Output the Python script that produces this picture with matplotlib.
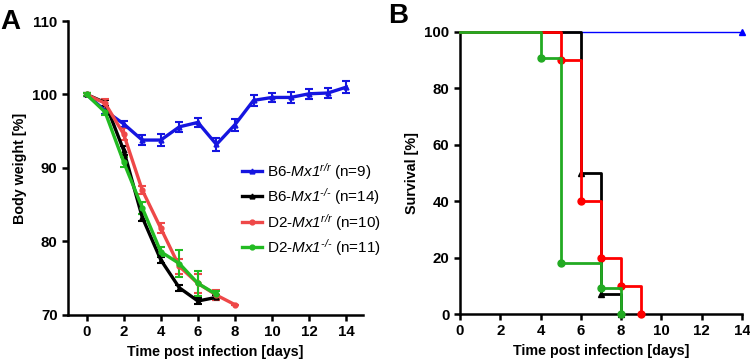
import matplotlib
matplotlib.use("Agg")
import matplotlib.pyplot as plt
from matplotlib.lines import Line2D

plt.rcParams["font.family"] = ["Liberation Sans", "DejaVu Sans"]
plt.rcParams["mathtext.fontset"] = "custom"
plt.rcParams["mathtext.rm"] = "Liberation Sans:italic"
plt.rcParams["mathtext.it"] = "Liberation Sans:italic"

# ---------------------------------------------------------------------------
# Panel A: body weight (mean +/- SEM)
# ---------------------------------------------------------------------------
b6_rr_days = list(range(0, 15))
b6_rr_wt = [100.0, 97.8, 96.0, 93.8, 93.8, 95.6, 96.2, 93.2, 95.9, 99.2, 99.6, 99.6, 100.1, 100.2, 101.0]
b6_rr_err = [0.2, 0.4, 0.4, 0.7, 0.8, 0.7, 0.6, 0.9, 0.8, 0.7, 0.6, 0.8, 0.7, 0.7, 0.8]

b6_ko_days = list(range(0, 8))
b6_ko_wt = [100.0, 98.9, 92.4, 83.3, 77.5, 73.7, 71.9, 72.4]
b6_ko_err = [0.2, 0.4, 0.6, 0.5, 0.4, 0.4, 0.4, 0.3]

d2_rr_days = list(range(0, 9))
d2_rr_wt = [100.0, 98.8, 94.6, 87.0, 81.8, 76.6, 74.3, 72.7, 71.4]
d2_rr_err = [0.2, 0.6, 0.8, 0.6, 0.7, 1.0, 1.3, 0.7, 0.0]

d2_ko_days = list(range(0, 8))
d2_ko_wt = [100.0, 97.6, 90.8, 84.6, 78.6, 77.0, 74.3, 72.8]
d2_ko_err = [0.2, 0.4, 0.7, 0.8, 0.6, 1.8, 1.7, 0.5]

labels = [r"B6-$\mathit{Mx1}^{r/r}$ (n=9)", r"B6-$\mathit{Mx1}^{\text{-/-}}$ (n=14)",
          r"D2-$\mathit{Mx1}^{r/r}$ (n=10)", r"D2-$\mathit{Mx1}^{\text{-/-}}$ (n=11)"]

# ---------------------------------------------------------------------------
# Panel B: survival (Kaplan-Meier steps, drop points)
# ---------------------------------------------------------------------------
b6_rr_t = [0, 14]
b6_rr_s = [100, 100]
b6_ko_t = [0, 6, 7, 8]
b6_ko_s = [100, 50, 7.1, 0]
d2_rr_t = [0, 5, 6, 7, 8, 9]
d2_rr_s = [100, 90, 40, 20, 10, 0]
d2_ko_t = [0, 4, 5, 7, 8]
d2_ko_s = [100, 90.9, 18.2, 9.1, 0]

fig = plt.figure(figsize=(7.5, 3.59), dpi=100)
ax = fig.add_axes([0.0907, 0.1226, 0.3933, 0.8189])
ax2 = fig.add_axes([0.6133, 0.1253, 0.376, 0.7856])

col_a = {"b6rr": "#1515E0", "b6ko": "#000000", "d2rr": "#EE4848", "d2ko": "#22BB22"}
series_a = [
    (b6_rr_days, b6_rr_wt, b6_rr_err, col_a["b6rr"], "^"),
    (b6_ko_days, b6_ko_wt, b6_ko_err, col_a["b6ko"], "^"),
    (d2_rr_days, d2_rr_wt, d2_rr_err, col_a["d2rr"], "o"),
    (d2_ko_days, d2_ko_wt, d2_ko_err, col_a["d2ko"], "o"),
]
handles = []
for (d, w, e, c, m), lab in zip(series_a, labels):
    ax.errorbar(d, w, yerr=e, color=c, lw=2.4, marker=m, ms=3.5,
                capsize=3, capthick=1.5, elinewidth=1.5, zorder=3)
    handles.append(Line2D([], [], color=c, lw=2.4, marker=m, ms=3.5))

ax.set_xlim(-1, 14.9)
ax.set_ylim(70, 110)
ax.set_xticks(range(0, 15, 2))
ax.set_yticks([70, 80, 90, 100, 110])
ax.set_xlabel("Time post infection [days]", fontsize=10.3, fontweight="bold")
ax.set_ylabel("Body weight [%]", fontsize=10.3, fontweight="bold")
ax.legend(handles, labels, loc="upper left", bbox_to_anchor=(0.59, 0.525),
          frameon=False, fontsize=11, handlelength=1.3, handletextpad=0.35,
          labelspacing=0.3, borderpad=0, borderaxespad=0)

# Survival steps: blue bottom, then black, red, green on top
series_b = [
    (b6_rr_t, b6_rr_s, "#0000FF", "^", 1.0),
    (b6_ko_t, b6_ko_s, "#000000", "^", 2.0),
    (d2_rr_t, d2_rr_s, "#FF0000", "o", 2.0),
    (d2_ko_t, d2_ko_s, "#22AA22", "o", 2.0),
]
for z, (t, s, c, m, lw) in enumerate(series_b):
    ax2.step(t, s, where="post", color=c, lw=lw, zorder=3 + z, clip_on=False)
    ax2.plot(t[1:], s[1:], ls="none", marker=m, color=c, ms=5, zorder=3 + z, clip_on=False)

ax2.set_xlim(0, 14)
ax2.set_ylim(0, 100)
ax2.set_xticks(range(0, 15, 2))
ax2.set_yticks(range(0, 101, 20))
ax2.set_xlabel("Time post infection [days]", fontsize=10.3, fontweight="bold")
ax2.set_ylabel("Survival [%]", fontsize=10.3, fontweight="bold")

for a in (ax, ax2):
    for sp in ("top", "right"):
        a.spines[sp].set_visible(False)
    for sp in ("left", "bottom"):
        a.spines[sp].set_linewidth(1.8)
    a.tick_params(width=1.8, length=4, labelsize=10.8)
    for lab in a.get_xticklabels() + a.get_yticklabels():
        lab.set_fontweight("bold")

fig.text(0.0, 0.94, "A", fontsize=20, fontweight="bold", va="center")
fig.text(0.517, 0.955, "B", fontsize=20, fontweight="bold", va="center")

fig.savefig("out.png", dpi=100)
